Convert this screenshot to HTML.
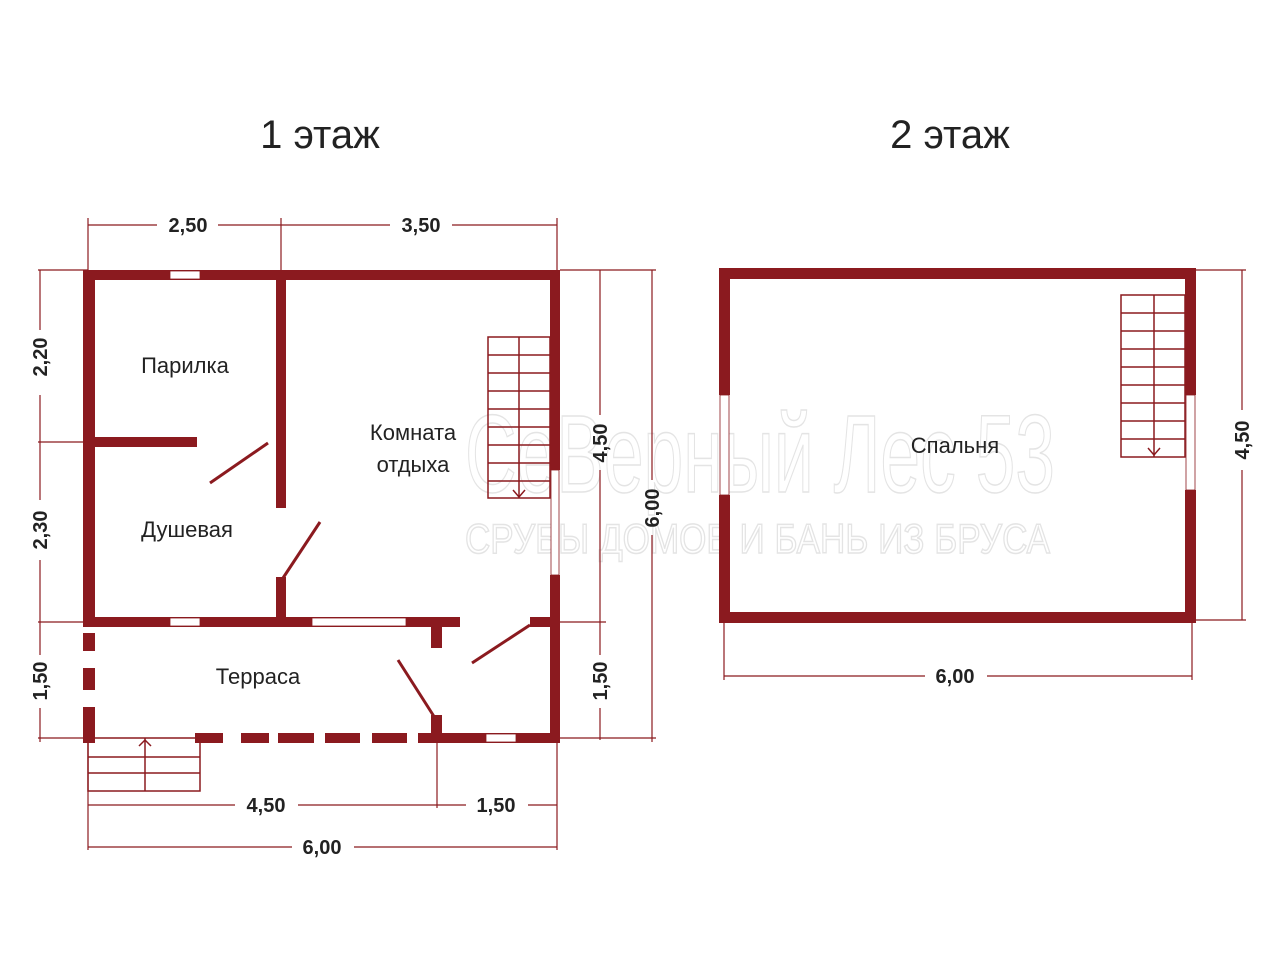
<!DOCTYPE html>
<html><head><meta charset="utf-8"><style>
body{margin:0;background:#fff}
svg{display:block}
text{font-family:"Liberation Sans","DejaVu Sans",sans-serif}
</style></head><body>
<svg width="1280" height="960" viewBox="0 0 1280 960" xmlns="http://www.w3.org/2000/svg">
<rect width="1280" height="960" fill="#fff"/>
<text x="320" y="148" font-size="40" text-anchor="middle" fill="#222">1 этаж</text>
<text x="950" y="148" font-size="40" text-anchor="middle" fill="#222">2 этаж</text>
<g fill="none" stroke="#e4e4e4" stroke-width="1.5" font-family="Liberation Sans Narrow, Liberation Sans, sans-serif">
<text x="465" y="492" font-size="110" textLength="590" lengthAdjust="spacingAndGlyphs">СеВерный Лес 53</text>
<text x="465" y="553" font-size="42" textLength="585" lengthAdjust="spacingAndGlyphs">СРУБЫ ДОМОВ И БАНЬ ИЗ БРУСА</text>
</g>
<g stroke="#8b1a1f" stroke-width="1.2" fill="none">
<line x1="88" y1="225" x2="157" y2="225"/><line x1="218" y1="225" x2="390" y2="225"/><line x1="452" y1="225" x2="557" y2="225"/>
<line x1="88" y1="218" x2="88" y2="270"/><line x1="281" y1="218" x2="281" y2="270"/><line x1="557" y1="218" x2="557" y2="270"/>
<line x1="40" y1="270" x2="40" y2="330"/><line x1="40" y1="395" x2="40" y2="500"/><line x1="40" y1="560" x2="40" y2="655"/><line x1="40" y1="708" x2="40" y2="742"/>
<line x1="38" y1="270" x2="88" y2="270"/><line x1="38" y1="442" x2="88" y2="442"/><line x1="38" y1="622" x2="88" y2="622"/><line x1="38" y1="738" x2="88" y2="738"/>
<line x1="600" y1="270" x2="600" y2="415"/><line x1="600" y1="470" x2="600" y2="655"/><line x1="600" y1="708" x2="600" y2="740"/>
<line x1="652" y1="270" x2="652" y2="480"/><line x1="652" y1="535" x2="652" y2="742"/>
<line x1="560" y1="270" x2="656" y2="270"/><line x1="560" y1="622" x2="606" y2="622"/><line x1="560" y1="738" x2="656" y2="738"/>
<line x1="88" y1="805" x2="235" y2="805"/><line x1="298" y1="805" x2="466" y2="805"/><line x1="528" y1="805" x2="557" y2="805"/>
<line x1="88" y1="847" x2="292" y2="847"/><line x1="354" y1="847" x2="557" y2="847"/>
<line x1="88" y1="740" x2="88" y2="850"/><line x1="437" y1="740" x2="437" y2="808"/><line x1="557" y1="740" x2="557" y2="850"/>
<line x1="1242" y1="270" x2="1242" y2="410"/><line x1="1242" y1="470" x2="1242" y2="620"/>
<line x1="1196" y1="270" x2="1246" y2="270"/><line x1="1196" y1="620" x2="1246" y2="620"/>
<line x1="724" y1="676" x2="925" y2="676"/><line x1="987" y1="676" x2="1192" y2="676"/>
<line x1="724" y1="623" x2="724" y2="680"/><line x1="1192" y1="623" x2="1192" y2="680"/>
</g>
<g font-size="20" font-weight="bold" fill="#222" text-anchor="middle">
<text x="188" y="232">2,50</text><text x="421" y="232">3,50</text>
<text x="266" y="812">4,50</text><text x="496" y="812">1,50</text><text x="322" y="854">6,00</text>
<text x="955" y="683">6,00</text>
<text transform="translate(47,357) rotate(-90)">2,20</text>
<text transform="translate(47,530) rotate(-90)">2,30</text>
<text transform="translate(47,681) rotate(-90)">1,50</text>
<text transform="translate(607,443) rotate(-90)">4,50</text>
<text transform="translate(607,681) rotate(-90)">1,50</text>
<text transform="translate(659,508) rotate(-90)">6,00</text>
<text transform="translate(1249,440) rotate(-90)">4,50</text>
</g>
<g fill="#8b1a1f">
<rect x="83" y="270" width="477" height="10"/>
<rect x="83" y="270" width="12" height="357"/>
<rect x="550" y="270" width="10" height="200"/>
<rect x="550" y="575" width="10" height="168"/>
<rect x="276" y="270" width="10" height="238"/>
<rect x="276" y="577" width="10" height="45"/>
<rect x="95" y="437" width="102" height="10"/>
<rect x="83" y="617" width="377" height="10"/>
<rect x="530" y="617" width="30" height="10"/>
<rect x="431" y="627" width="11" height="21"/>
<rect x="431" y="715" width="11" height="20"/>
<rect x="418" y="733" width="142" height="10"/>
<rect x="195" y="733" width="28" height="10"/>
<rect x="241" y="733" width="28" height="10"/>
<rect x="278" y="733" width="36" height="10"/>
<rect x="325" y="733" width="35" height="10"/>
<rect x="372" y="733" width="35" height="10"/>
<rect x="83" y="633" width="12" height="18"/>
<rect x="83" y="668" width="12" height="22"/>
<rect x="83" y="707" width="12" height="36"/>
<rect x="719" y="268" width="477" height="11"/>
<rect x="719" y="612" width="477" height="11"/>
<rect x="719" y="268" width="11" height="127"/>
<rect x="719" y="495" width="11" height="128"/>
<rect x="1185" y="268" width="11" height="127"/>
<rect x="1185" y="490" width="11" height="133"/>
</g>
<g fill="#fff" stroke="#8b1a1f" stroke-width="0.8">
<rect x="170" y="271" width="30" height="8"/>
<rect x="170" y="618" width="30" height="8"/>
<rect x="312" y="618" width="94" height="8"/>
<rect x="486" y="734" width="30" height="8"/>
<rect x="551" y="470" width="8" height="105"/>
<rect x="720" y="395" width="9" height="100"/>
<rect x="1186" y="395" width="9" height="95"/>
</g>
<g stroke="#8b1a1f" stroke-width="3" fill="none">
<line x1="210" y1="483" x2="268" y2="443"/>
<line x1="283" y1="578" x2="320" y2="522"/>
<line x1="398" y1="660" x2="435" y2="718"/>
<line x1="472" y1="663" x2="530" y2="625"/>
</g>
<g stroke="#8b1a1f" stroke-width="1.5" fill="none">
<rect x="488" y="337" width="62" height="161"/>
<line x1="519" y1="337" x2="519" y2="498"/>
<line x1="488" y1="355" x2="550" y2="355"/><line x1="488" y1="373" x2="550" y2="373"/><line x1="488" y1="391" x2="550" y2="391"/><line x1="488" y1="409" x2="550" y2="409"/><line x1="488" y1="427" x2="550" y2="427"/><line x1="488" y1="445" x2="550" y2="445"/><line x1="488" y1="463" x2="550" y2="463"/><line x1="488" y1="481" x2="550" y2="481"/>
<polyline points="513,490 519,497 525,490"/>
<rect x="88" y="738" width="112" height="53"/>
<line x1="145" y1="738" x2="145" y2="791"/>
<line x1="88" y1="757" x2="200" y2="757"/><line x1="88" y1="773" x2="200" y2="773"/>
<polyline points="139,746 145,740 151,746"/>
<rect x="1121" y="295" width="64" height="162"/>
<line x1="1154" y1="295" x2="1154" y2="457"/>
<line x1="1121" y1="313" x2="1185" y2="313"/><line x1="1121" y1="331" x2="1185" y2="331"/><line x1="1121" y1="349" x2="1185" y2="349"/><line x1="1121" y1="367" x2="1185" y2="367"/><line x1="1121" y1="385" x2="1185" y2="385"/><line x1="1121" y1="403" x2="1185" y2="403"/><line x1="1121" y1="421" x2="1185" y2="421"/><line x1="1121" y1="439" x2="1185" y2="439"/>
<polyline points="1148,448 1154,455 1160,448"/>
</g>
<g font-size="22" fill="#222" text-anchor="middle">
<text x="185" y="373">Парилка</text>
<text x="187" y="537">Душевая</text>
<text x="413" y="440">Комната</text>
<text x="413" y="472">отдыха</text>
<text x="258" y="684">Терраса</text>
<text x="955" y="453">Спальня</text>
</g>
</svg>
</body></html>
